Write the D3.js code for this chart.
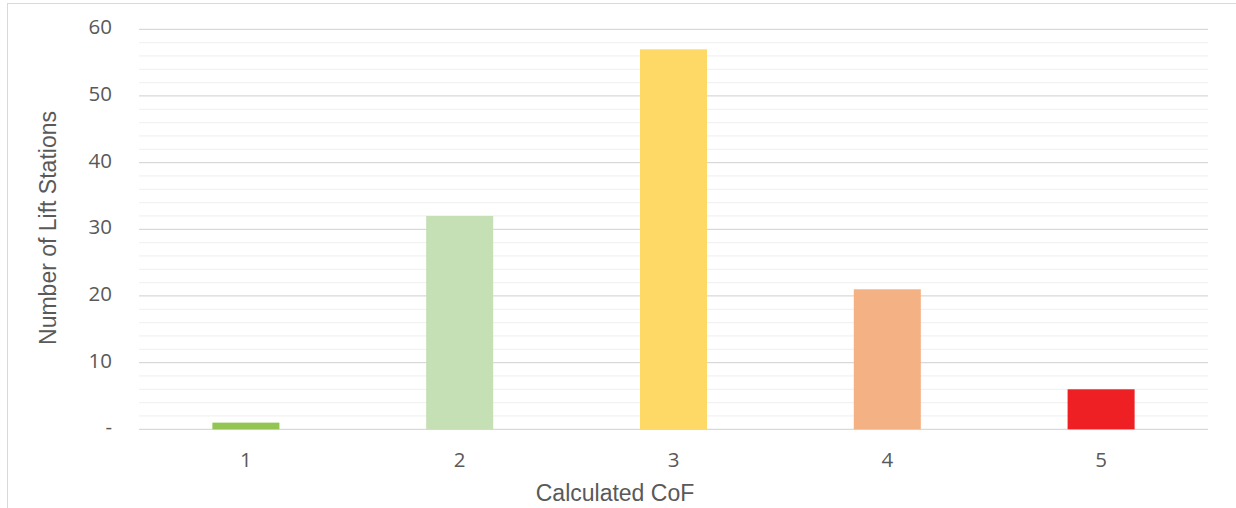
<!DOCTYPE html>
<html>
<head>
<meta charset="utf-8">
<script src="https://cdn.jsdelivr.net/npm/d3@7"></script>
<style>
  html, body { margin: 0; padding: 0; background: #fff; }
  svg { display: block; }
</style>
</head>
<body>
<svg id="chart" width="1236" height="508"></svg>
<script>
// Lift station counts by calculated consequence-of-failure score
const categories = ["1", "2", "3", "4", "5"];
const counts = [1, 32, 57, 21, 6];
const barColors = ["#92C552", "#C5E0B4", "#FFD966", "#F4B183", "#EE2024"];
const yTicks = [0, 10, 20, 30, 40, 50, 60];
const yTickLabels = ["-", "10", "20", "30", "40", "50", "60"];
const minorTicks = [2, 4, 6, 8, 12, 14, 16, 18, 22, 24, 26, 28, 32, 34, 36, 38, 42, 44, 46, 48, 52, 54, 56, 58];

const svg = d3.select("#chart");
const W = 1236, H = 508;
const plot = { left: 139, right: 1208, top: 29.3, bottom: 429.3 };

// Outer chart frame
svg.append("rect")
  .attr("x", 7.5).attr("y", 3.5)
  .attr("width", W + 10).attr("height", H + 10)
  .attr("fill", "#fff").attr("stroke", "#d9d9d9").attr("stroke-width", 1);

const x = d3.scaleBand().domain(categories).range([plot.left, plot.right]).padding(0);
const y = d3.scaleLinear().domain([0, 60]).range([plot.bottom, plot.top]);

// Minor gridlines
svg.append("g").selectAll("line").data(minorTicks).join("line")
  .attr("x1", plot.left).attr("x2", plot.right)
  .attr("y1", d => y(d)).attr("y2", d => y(d))
  .attr("stroke", "#f2f2f2").attr("stroke-width", 1.3);

// Major gridlines
svg.append("g").selectAll("line").data(yTicks).join("line")
  .attr("x1", plot.left).attr("x2", plot.right)
  .attr("y1", d => y(d)).attr("y2", d => y(d))
  .attr("stroke", "#d9d9d9").attr("stroke-width", 1.3);

// Bars (Excel-style gap width ~219%)
const barW = x.bandwidth() / 3.19;
svg.append("g").selectAll("rect").data(categories).join("rect")
  .attr("x", d => x(d) + (x.bandwidth() - barW) / 2)
  .attr("width", barW)
  .attr("y", (d, i) => y(counts[i]))
  .attr("height", (d, i) => y(0) - y(counts[i]))
  .attr("fill", (d, i) => barColors[i]);

// Y axis labels
const yAxis = d3.axisLeft(y).tickValues(yTicks)
  .tickFormat((d, i) => yTickLabels[i]).tickSize(0).tickPadding(0);
const gy = svg.append("g").attr("transform", "translate(112,-2)").call(yAxis);
gy.select(".domain").remove();
gy.selectAll("text")
  .attr("font-family", "'Open Sans', sans-serif").attr("font-size", 20.5)
  .attr("fill", "#595959");

// X axis labels
const xAxis = d3.axisBottom(x).tickSize(0).tickPadding(0);
const gx = svg.append("g").attr("transform", "translate(0,452)").call(xAxis);
gx.select(".domain").remove();
gx.selectAll("text")
  .attr("font-family", "'Open Sans', sans-serif").attr("font-size", 20.5)
  .attr("fill", "#595959");

// Axis titles
svg.append("text")
  .attr("x", 615).attr("y", 501)
  .attr("text-anchor", "middle")
  .attr("font-family", "'Liberation Sans', Arial, sans-serif").attr("font-size", 23)
  .attr("fill", "#595959")
  .text("Calculated CoF");

svg.append("text")
  .attr("transform", "translate(56,228) rotate(-90)")
  .attr("text-anchor", "middle")
  .attr("font-family", "'Liberation Sans', Arial, sans-serif").attr("font-size", 23)
  .attr("fill", "#595959")
  .text("Number of Lift Stations");
</script>
</body>
</html>
